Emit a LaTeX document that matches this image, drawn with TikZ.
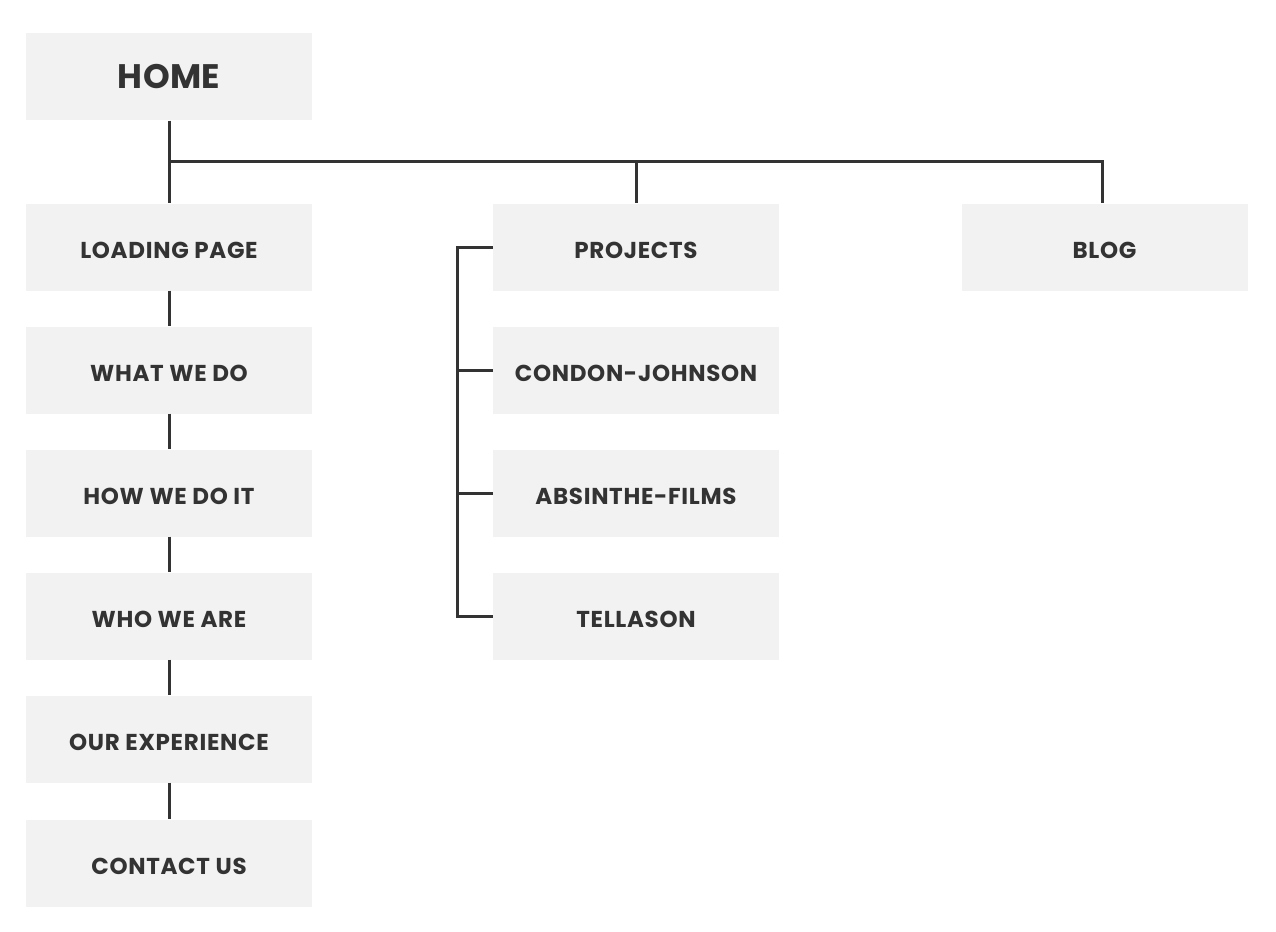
\documentclass[tikz,border=0pt]{standalone}
\usepackage{fontspec}
\setmainfont{Poppins}
\newfontfamily\boxfont[LetterSpace=3]{Poppins}
\newfontfamily\homefont[LetterSpace=1]{Poppins}
\definecolor{boxfill}{HTML}{F2F2F2}
\definecolor{ink}{HTML}{333333}
\begin{document}
\begin{tikzpicture}[x=1pt,y=-1pt,
  page/.style={fill=boxfill, draw=none, minimum width=286pt, minimum height=87pt, inner sep=0pt, text=ink, text height=22pt, text depth=0pt, font=\boxfont\fontsize{23}{26}\selectfont\bfseries},
  homebox/.style={fill=boxfill, draw=none, minimum width=286pt, minimum height=87pt, inner sep=0pt, text=ink, font=\homefont\fontsize{34}{38}\selectfont\bfseries},
  link/.style={draw=ink, line width=3pt}]
\useasboundingbox (0,0) rectangle (1276,931);
\node[homebox] (home) at (169,77) {HOME};
\node[page] (loading) at (169,247) {LOADING PAGE};
\node[page] (what) at (169,370) {WHAT WE DO};
\node[page] (how) at (169,493) {HOW WE DO IT};
\node[page] (who) at (169,616) {WHO WE ARE};
\node[page] (exp) at (169,739) {OUR EXPERIENCE};
\node[page] (contact) at (169,863) {CONTACT US};
\node[page] (projects) at (636,247) {PROJECTS};
\node[page] (condon) at (636,370) {CONDON-JOHNSON};
\node[page] (absinthe) at (636,493) {ABSINTHE-FILMS};
\node[page] (tellason) at (636,616) {TELLASON};
\node[page] (blog) at (1104.5,247) {BLOG};
\coordinate (bus) at (169,161);
\coordinate (rail) at (457,0);
\draw[link] (home.south) -- (loading.north);
\draw[link] (bus) -| (projects.north);
\draw[link] (bus) -| ([xshift=-2.5pt]blog.north);
\draw[link] (loading.south) -- (what.north);
\draw[link] (what.south) -- (how.north);
\draw[link] (how.south) -- (who.north);
\draw[link] (who.south) -- (exp.north);
\draw[link] (exp.south) -- (contact.north);
\draw[link] (projects.west) -- (rail |- projects.west) -- (rail |- tellason.west) -- (tellason.west);
\draw[link] (rail |- condon.west) -- (condon.west);
\draw[link] (rail |- absinthe.west) -- (absinthe.west);
\end{tikzpicture}
\end{document}
